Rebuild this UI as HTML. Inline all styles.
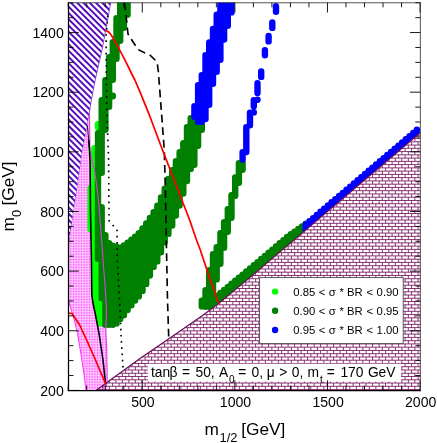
<!DOCTYPE html><html><head><meta charset="utf-8"><style>html,body{margin:0;padding:0;background:#fff}body{width:437px;height:443px;position:relative;overflow:hidden}</style></head><body><svg width="437" height="443" viewBox="0 0 437 443" style="position:absolute;left:0;top:0">
<defs>
<clipPath id="fr"><rect x="68.3" y="2.5" width="352.2" height="388.3"/></clipPath>
<clipPath id="bk"><polygon points="95.6,390.8 140.0,358.6 170.0,338.0 200.0,317.2 212.0,308.6 222.8,300.0 250.0,277.4 420.5,132.5 420.5,390.8"/></clipPath>
</defs>
<g clip-path="url(#fr)">
<clipPath id="pp"><polygon points="68.3,2.5 110.8,2.5 102.0,50.0 95.2,80.0 91.4,100.0 86.6,130.0 82.3,152.0 78.4,180.0 75.7,198.0 73.0,216.0 70.3,234.0 68.3,249.0"/></clipPath>
<path clip-path="url(#pp)" d="M-195.19 0L64.81 260M-188.92 0L71.08 260M-182.65 0L77.35 260M-176.38 0L83.62 260M-170.11 0L89.89 260M-163.84 0L96.16 260M-157.57 0L102.43 260M-151.30 0L108.70 260M-145.03 0L114.97 260M-138.76 0L121.24 260M-132.49 0L127.51 260M-126.22 0L133.78 260M-119.95 0L140.05 260M-113.68 0L146.32 260M-107.41 0L152.59 260M-101.14 0L158.86 260M-94.87 0L165.13 260M-88.60 0L171.40 260M-82.33 0L177.67 260M-76.06 0L183.94 260M-69.79 0L190.21 260M-63.52 0L196.48 260M-57.25 0L202.75 260M-50.98 0L209.02 260M-44.71 0L215.29 260M-38.44 0L221.56 260M-32.17 0L227.83 260M-25.90 0L234.10 260M-19.63 0L240.37 260M-13.36 0L246.64 260M-7.09 0L252.91 260M-0.82 0L259.18 260M5.45 0L265.45 260M11.72 0L271.72 260M17.99 0L277.99 260M24.26 0L284.26 260M30.53 0L290.53 260M36.80 0L296.80 260M43.07 0L303.07 260M49.34 0L309.34 260M55.61 0L315.61 260M61.88 0L321.88 260M68.15 0L328.15 260M74.42 0L334.42 260M80.69 0L340.69 260M86.96 0L346.96 260M93.23 0L353.23 260M99.50 0L359.50 260M105.77 0L365.77 260M112.04 0L372.04 260M118.31 0L378.31 260M124.58 0L384.58 260M130.85 0L390.85 260M137.12 0L397.12 260M143.39 0L403.39 260M149.66 0L409.66 260M155.93 0L415.93 260M162.20 0L422.20 260M168.47 0L428.47 260M174.74 0L434.74 260M181.01 0L441.01 260M187.28 0L447.28 260M193.55 0L453.55 260M199.82 0L459.82 260M206.09 0L466.09 260M212.36 0L472.36 260M218.63 0L478.63 260M224.90 0L484.90 260M231.17 0L491.17 260M237.44 0L497.44 260M243.71 0L503.71 260M249.98 0L509.98 260M256.25 0L516.25 260M262.52 0L522.52 260M268.79 0L528.79 260M275.06 0L535.06 260M281.33 0L541.33 260M287.60 0L547.60 260M293.87 0L553.87 260M300.14 0L560.14 260M306.41 0L566.41 260M312.68 0L572.68 260M318.95 0L578.95 260M325.22 0L585.22 260M331.49 0L591.49 260M337.76 0L597.76 260M344.03 0L604.03 260M350.30 0L610.30 260M356.57 0L616.57 260M362.84 0L622.84 260" stroke="#560bbd" stroke-width="1.95" fill="none"/>
<path d="M110.8 2.5L102.0 50.0L95.2 80.0L91.4 100.0L86.6 130.0L82.3 152.0L78.4 180.0L75.7 198.0L73.0 216.0L70.3 234.0L68.3 249.0" stroke="#7a30d0" stroke-width="0.8" fill="none"/>
<clipPath id="pc"><polygon points="89.4,113.7 89.8,135.0 90.0,150.0 92.5,162.0 94.8,172.0 97.0,188.0 99.0,205.0 101.0,232.0 103.0,260.0 105.0,285.0 106.5,310.0 105.8,330.0 106.6,345.0 107.0,365.0 107.2,382.0 107.2,384.0 107.2,390.6 85.9,390.6 84.3,376.3 80.9,353.7 77.5,333.4 74.2,319.8 70.5,307.0 68.3,300.5 68.3,249.0 70.3,234.0 73.0,216.0 75.7,198.0 78.4,180.0 82.3,152.0 86.6,130.0 89.4,113.7"/></clipPath>
<polygon points="89.4,113.7 89.8,135.0 90.0,150.0 92.5,162.0 94.8,172.0 97.0,188.0 99.0,205.0 101.0,232.0 103.0,260.0 105.0,285.0 106.5,310.0 105.8,330.0 106.6,345.0 107.0,365.0 107.2,382.0 107.2,384.0 107.2,390.6 85.9,390.6 84.3,376.3 80.9,353.7 77.5,333.4 74.2,319.8 70.5,307.0 68.3,300.5 68.3,249.0 70.3,234.0 73.0,216.0 75.7,198.0 78.4,180.0 82.3,152.0 86.6,130.0 89.4,113.7" fill="#ffe0ff"/>
<path clip-path="url(#pc)" d="M65.50 83.05V392M67.10 83.05V392M68.70 83.05V392M70.30 83.05V392M71.90 83.05V392M73.50 83.05V392M75.10 83.05V392M76.70 83.05V392M78.30 83.05V392M79.90 83.05V392M81.50 83.05V392M83.10 83.05V392M84.70 83.05V392M86.30 83.05V392M87.90 83.05V392M89.50 83.05V392M91.10 83.05V392M92.70 83.05V392M94.30 83.05V392M95.90 83.05V392M97.50 83.05V392M99.10 83.05V392M100.70 83.05V392M102.30 83.05V392M103.90 83.05V392M105.50 83.05V392M107.10 83.05V392M108.70 83.05V392" stroke="#ff28ff" stroke-width="0.9" stroke-dasharray="0.9 0.7000000000000001" fill="none"/>
<path d="M68.3 300.5L70.5 307.0L74.2 319.8L77.5 333.4L80.9 353.7L84.3 376.3L85.9 390.0" stroke="#ff30ff" stroke-width="1" fill="none"/>
<clipPath id="lc"><polygon points="60.0,100.0 140.0,100.0 140.0,340.0 105.5,383.5 103.0,360.0 99.3,335.0 95.5,315.0 92.8,302.0 91.8,295.0 91.4,260.0 90.9,232.0 60.0,232.0"/></clipPath>
<g clip-path="url(#lc)"><path d="M98.0 124.2V127.3M94.3 148.2V308.8M90.6 188.2V229.3M98.0 258.2V323.0M101.7 288.2V323.2" stroke="#00ff00" stroke-width="6.4" stroke-linecap="round" fill="none"/></g>
<path d="M105.4 80.2V129.8M109.1 57.2V106.8M112.8 42.2V79.8M116.5 18.2V58.8M120.2 -0.8V40.8M123.9 -0.8V27.8M127.6 -0.8V14.8M101.7 100.2V172.8M101.7 207.2V298.3M98.0 133.2V258.8M105.4 235.2V324.7M109.1 243.2V324.7M112.8 95.7V96.3M112.8 245.7V324.7M116.5 246.7V323.4M120.2 247.7V318.9M123.9 245.4V315.3" stroke="#008000" stroke-width="6.4" stroke-linecap="round" fill="none"/>
<path d="M127.6 242.7V310.1M131.4 239.8V305.2M135.1 236.7V300.5M138.8 233.1V296.4M142.5 228.4V291.1M146.2 223.5V283.9M149.9 218.0V275.5M153.6 212.1V266.9M157.3 205.7V261.4M161.0 197.5V252.2M164.7 188.8V242.2M168.4 178.9V233.9M172.2 170.1V225.5M175.9 161.2V215.5M179.6 152.2V205.5M183.3 143.2V193.6M187.0 127.2V181.0M190.7 118.2V168.9M194.4 118.2V164.8M198.1 123.2V145.8M201.8 123.2V129.8" stroke="#008000" stroke-width="6.4" stroke-linecap="round" fill="none"/>
<path d="M242.6 162.7V169.8M238.9 163.2V182.8M235.2 177.5V195.8M231.5 195.2V217.8M227.8 209.2V231.8M224.1 222.2V247.8M220.4 233.2V263.8M216.7 247.2V279.4M213.0 254.2V296.8M209.2 270.2V306.8M205.5 290.2V306.8M201.8 300.7V306.4" stroke="#008000" stroke-width="6.4" stroke-linecap="round" fill="none"/>
<path d="M213.0 298.9V307.6M216.7 296.0V304.7M220.4 293.0V301.7M224.1 290.0V298.7M227.8 286.9V295.6M231.5 283.8V292.5M235.2 280.8V289.5M238.9 277.7V286.4M242.6 274.6V283.3M246.3 271.5V280.2M250.0 268.5V277.2M253.8 265.3V274.0M257.5 262.2V270.9M261.2 259.0V267.7M264.9 255.9V264.6M268.6 252.7V261.4M272.3 249.6V258.3M276.0 246.4V255.1M279.7 243.2V251.9M283.4 240.1V248.8M287.1 236.9V245.6M290.8 234.2V242.5M294.5 231.6V239.3M298.3 229.0V236.2M302.0 226.4V233.0M305.7 223.7V229.9" stroke="#008000" stroke-width="6.4" stroke-linecap="round" fill="none"/>
<path d="M194.4 106.2V116.8M198.1 85.2V121.8M201.8 75.2V121.8M205.5 55.2V119.1M209.2 42.5V104.8M213.0 28.9V83.8M216.7 14.7V71.8M220.4 -0.8V59.8M224.1 -0.8V39.5M227.8 -0.8V25.8M231.5 -0.8V12.4" stroke="#0000ff" stroke-width="6.4" stroke-linecap="round" fill="none"/>
<path d="M276.0 6.2V11.7M272.3 22.4V27.9M268.6 36.0V41.4M264.9 50.1V55.3M261.2 71.4V76.9M257.5 83.3V93.1M257.5 99.8V99.8M253.8 100.2V106.3M253.8 112.2V112.4M250.0 112.7V123.8M250.0 125.2V125.2M246.3 127.2V152.0M242.6 152.2V159.5" stroke="#0000ff" stroke-width="6.4" stroke-linecap="round" fill="none"/>
<path d="M305.7 224.4V229.9M309.4 221.2V226.7M313.1 218.1V223.6M316.8 214.9V220.4M320.5 211.8V217.3M324.2 208.6V214.1M327.9 205.5V211.0M331.6 202.3V207.8M335.3 199.2V204.7M339.1 196.0V201.5M342.8 192.9V198.4M346.5 189.7V195.2M350.2 186.6V192.1M353.9 183.4V188.9M357.6 180.3V185.8M361.3 177.1V182.6M365.0 173.9V179.4M368.7 170.8V176.3M372.4 167.6V173.1M376.1 164.5V170.0M379.9 161.3V166.8M383.6 158.2V163.7M387.3 155.0V160.5M391.0 151.9V157.4M394.7 148.7V154.2M398.4 145.6V151.1M402.1 142.4V147.9M405.8 139.3V144.8M409.5 136.1V141.6M413.2 133.0V138.5M416.9 129.8V135.3" stroke="#0000ff" stroke-width="6.4" stroke-linecap="round" fill="none"/>
<polygon points="95.6,390.8 140.0,358.6 170.0,338.0 200.0,317.2 212.0,308.6 222.8,300.0 250.0,277.4 420.5,132.5 420.5,390.8" fill="#ffffff"/>
<g clip-path="url(#bk)"><polygon points="89.4,113.7 89.8,135.0 90.0,150.0 92.5,162.0 94.8,172.0 97.0,188.0 99.0,205.0 101.0,232.0 103.0,260.0 105.0,285.0 106.5,310.0 105.8,330.0 106.6,345.0 107.0,365.0 107.2,382.0 107.2,384.0 107.2,390.6 85.9,390.6 84.3,376.3 80.9,353.7 77.5,333.4 74.2,319.8 70.5,307.0 68.3,300.5 68.3,249.0 70.3,234.0 73.0,216.0 75.7,198.0 78.4,180.0 82.3,152.0 86.6,130.0 89.4,113.7" fill="#ffe0ff"/><path clip-path="url(#pc)" d="M65.50 83.05V392M67.10 83.05V392M68.70 83.05V392M70.30 83.05V392M71.90 83.05V392M73.50 83.05V392M75.10 83.05V392M76.70 83.05V392M78.30 83.05V392M79.90 83.05V392M81.50 83.05V392M83.10 83.05V392M84.70 83.05V392M86.30 83.05V392M87.90 83.05V392M89.50 83.05V392M91.10 83.05V392M92.70 83.05V392M94.30 83.05V392M95.90 83.05V392M97.50 83.05V392M99.10 83.05V392M100.70 83.05V392M102.30 83.05V392M103.90 83.05V392M105.50 83.05V392M107.10 83.05V392M108.70 83.05V392" stroke="#ff28ff" stroke-width="0.9" stroke-dasharray="0.9 0.7000000000000001" fill="none"/></g>
<g clip-path="url(#bk)" stroke="#6e0856" fill="none">
<path d="M60 392.82H425M60 389.56H425M60 386.30H425M60 383.04H425M60 379.78H425M60 376.52H425M60 373.26H425M60 370.00H425M60 366.74H425M60 363.48H425M60 360.22H425M60 356.96H425M60 353.70H425M60 350.44H425M60 347.18H425M60 343.92H425M60 340.66H425M60 337.40H425M60 334.14H425M60 330.88H425M60 327.62H425M60 324.36H425M60 321.10H425M60 317.84H425M60 314.58H425M60 311.32H425M60 308.06H425M60 304.80H425M60 301.54H425M60 298.28H425M60 295.02H425M60 291.76H425M60 288.50H425M60 285.24H425M60 281.98H425M60 278.72H425M60 275.46H425M60 272.20H425M60 268.94H425M60 265.68H425M60 262.42H425M60 259.16H425M60 255.90H425M60 252.64H425M60 249.38H425M60 246.12H425M60 242.86H425M60 239.60H425M60 236.34H425M60 233.08H425M60 229.82H425M60 226.56H425M60 223.30H425M60 220.04H425M60 216.78H425M60 213.52H425M60 210.26H425M60 207.00H425M60 203.74H425M60 200.48H425M60 197.22H425M60 193.96H425M60 190.70H425M60 187.44H425M60 184.18H425M60 180.92H425M60 177.66H425M60 174.40H425M60 171.14H425M60 167.88H425M60 164.62H425M60 161.36H425M60 158.10H425M60 154.84H425M60 151.58H425M60 148.32H425M60 145.06H425M60 141.80H425M60 138.54H425M60 135.28H425M60 132.02H425M60 128.76H425M60 125.50H425" stroke-width="0.82"/>
<path d="M424.60 392.82V120M418.10 392.82V120M411.60 392.82V120M405.10 392.82V120M398.60 392.82V120M392.10 392.82V120M385.60 392.82V120M379.10 392.82V120M372.60 392.82V120M366.10 392.82V120M359.60 392.82V120M353.10 392.82V120M346.60 392.82V120M340.10 392.82V120M333.60 392.82V120M327.10 392.82V120M320.60 392.82V120M314.10 392.82V120M307.60 392.82V120M301.10 392.82V120M294.60 392.82V120M288.10 392.82V120M281.60 392.82V120M275.10 392.82V120M268.60 392.82V120M262.10 392.82V120M255.60 392.82V120M249.10 392.82V120M242.60 392.82V120M236.10 392.82V120M229.60 392.82V120M223.10 392.82V120M216.60 392.82V120M210.10 392.82V120M203.60 392.82V120M197.10 392.82V120M190.60 392.82V120M184.10 392.82V120M177.60 392.82V120M171.10 392.82V120M164.60 392.82V120M158.10 392.82V120M151.60 392.82V120M145.10 392.82V120M138.60 392.82V120M132.10 392.82V120M125.60 392.82V120M119.10 392.82V120M112.60 392.82V120M106.10 392.82V120M99.60 392.82V120M93.10 392.82V120" stroke-width="0.8" stroke-dasharray="3.26 3.26"/>
<path d="M421.35 392.82V120M414.85 392.82V120M408.35 392.82V120M401.85 392.82V120M395.35 392.82V120M388.85 392.82V120M382.35 392.82V120M375.85 392.82V120M369.35 392.82V120M362.85 392.82V120M356.35 392.82V120M349.85 392.82V120M343.35 392.82V120M336.85 392.82V120M330.35 392.82V120M323.85 392.82V120M317.35 392.82V120M310.85 392.82V120M304.35 392.82V120M297.85 392.82V120M291.35 392.82V120M284.85 392.82V120M278.35 392.82V120M271.85 392.82V120M265.35 392.82V120M258.85 392.82V120M252.35 392.82V120M245.85 392.82V120M239.35 392.82V120M232.85 392.82V120M226.35 392.82V120M219.85 392.82V120M213.35 392.82V120M206.85 392.82V120M200.35 392.82V120M193.85 392.82V120M187.35 392.82V120M180.85 392.82V120M174.35 392.82V120M167.85 392.82V120M161.35 392.82V120M154.85 392.82V120M148.35 392.82V120M141.85 392.82V120M135.35 392.82V120M128.85 392.82V120M122.35 392.82V120M115.85 392.82V120M109.35 392.82V120M102.85 392.82V120M96.35 392.82V120M89.85 392.82V120" stroke-width="0.8" stroke-dasharray="3.26 3.26" stroke-dashoffset="3.26"/>
</g>
<path d="M95.6 390.8L140.0 358.6L170.0 338.0L200.0 317.2L212.0 308.6L222.8 300.0L250.0 277.4L420.5 132.5" stroke="#6a0a55" stroke-width="1.2" fill="none"/>
<path d="M89.4 113.7L89.8 135.0L90.0 150.0L92.5 162.0L94.8 172.0L97.0 188.0L99.0 205.0L101.0 232.0L103.0 260.0L105.0 285.0L106.5 310.0L105.8 330.0L106.6 345.0L107.0 365.0L107.2 382.0" stroke="#e03ce0" stroke-width="1.1" fill="none"/>
<path d="M87.4 125.4L88.7 140.0L89.5 150.0" stroke="#000" stroke-width="0.9" fill="none" stroke-linejoin="round"/>
<path d="M88.7 140.0L89.5 150.0L90.1 162.0L90.5 210.0L91.4 260.0L91.8 295.0L92.8 302.0L95.5 315.0L99.3 335.0L103.0 360.0L105.5 383.5" stroke="#000" stroke-width="1.6" fill="none" stroke-linejoin="round"/>
<path d="M107.8 15.6L106.1 36.0L106.2 60.0L106.8 110.0L108.6 160.0L108.9 200.0L109.2 221.0L117.0 230.2L117.3 260.0L119.6 300.0L121.3 340.0L123.0 368.0" stroke="#000" stroke-width="1.65" fill="none" stroke-dasharray="1.65 4.55"/>
<path d="M124.5 2.5L126.5 20.0L128.0 34.0L131.5 39.5L138.0 49.5L144.5 52.8L149.3 54.4L155.0 60.0L157.3 63.7L158.3 71.0L159.0 80.0L164.3 150.0L165.4 190.0L166.5 250.0L167.5 300.0L168.8 340.0" stroke="#000" stroke-width="1.65" fill="none" stroke-dasharray="7.8 4.8"/>
<path d="M105.5 30.2L109.1 32.3L112.0 36.3L115.3 42.0L119.3 49.3L124.4 58.9L132.3 75.0L134.9 80.0L140.3 92.6L150.0 116.7L162.5 150.0L178.0 190.0L190.0 221.0L196.5 240.0L200.3 250.0L210.0 279.0L218.5 303.0" stroke="#ff0000" stroke-width="1.75" fill="none" stroke-linejoin="round"/>
<path d="M68.3 313.0L72.2 313.7L79.7 325.0L86.6 340.0L95.5 360.0L105.5 383.5" stroke="#ff0000" stroke-width="1.75" fill="none" stroke-linejoin="round"/>
</g>
<rect x="147.8" y="363.7" width="253.3" height="17.9" fill="#fff"/>
<rect x="259.6" y="277.6" width="143.6" height="66" fill="#fff" stroke="#4a4a4a" stroke-width="0.9"/>
<circle cx="275.1" cy="291.6" r="3.2" fill="#00ff00"/>
<circle cx="275.1" cy="310.8" r="3.2" fill="#008000"/>
<circle cx="275.1" cy="330" r="3.2" fill="#0000ff"/>
<path d="M68.3 390.40h10.5M420.5 390.40h-10.5M68.3 375.49h5.2M420.5 375.49h-5.2M68.3 360.58h5.2M420.5 360.58h-5.2M68.3 345.67h5.2M420.5 345.67h-5.2M68.3 330.76h10.5M420.5 330.76h-10.5M68.3 315.85h5.2M420.5 315.85h-5.2M68.3 300.94h5.2M420.5 300.94h-5.2M68.3 286.03h5.2M420.5 286.03h-5.2M68.3 271.12h10.5M420.5 271.12h-10.5M68.3 256.21h5.2M420.5 256.21h-5.2M68.3 241.30h5.2M420.5 241.30h-5.2M68.3 226.39h5.2M420.5 226.39h-5.2M68.3 211.48h10.5M420.5 211.48h-10.5M68.3 196.57h5.2M420.5 196.57h-5.2M68.3 181.66h5.2M420.5 181.66h-5.2M68.3 166.75h5.2M420.5 166.75h-5.2M68.3 151.84h10.5M420.5 151.84h-10.5M68.3 136.93h5.2M420.5 136.93h-5.2M68.3 122.02h5.2M420.5 122.02h-5.2M68.3 107.11h5.2M420.5 107.11h-5.2M68.3 92.20h10.5M420.5 92.20h-10.5M68.3 77.29h5.2M420.5 77.29h-5.2M68.3 62.38h5.2M420.5 62.38h-5.2M68.3 47.47h5.2M420.5 47.47h-5.2M68.3 32.56h10.5M420.5 32.56h-10.5M68.3 17.65h5.2M420.5 17.65h-5.2M68.3 2.74h5.2M420.5 2.74h-5.2M68.20 390.6v-5.1M68.20 2.5v4.8M86.72 390.6v-5.1M86.72 2.5v4.8M105.24 390.6v-5.1M105.24 2.5v4.8M123.76 390.6v-5.1M123.76 2.5v4.8M142.28 390.6v-10.3M142.28 2.5v10M160.80 390.6v-5.1M160.80 2.5v4.8M179.32 390.6v-5.1M179.32 2.5v4.8M197.84 390.6v-5.1M197.84 2.5v4.8M216.36 390.6v-5.1M216.36 2.5v4.8M234.88 390.6v-10.3M234.88 2.5v10M253.40 390.6v-5.1M253.40 2.5v4.8M271.92 390.6v-5.1M271.92 2.5v4.8M290.44 390.6v-5.1M290.44 2.5v4.8M308.96 390.6v-5.1M308.96 2.5v4.8M327.48 390.6v-10.3M327.48 2.5v10M346.00 390.6v-5.1M346.00 2.5v4.8M364.52 390.6v-5.1M364.52 2.5v4.8M383.04 390.6v-5.1M383.04 2.5v4.8M401.56 390.6v-5.1M401.56 2.5v4.8M420.08 390.6v-10.3M420.08 2.5v10" stroke="#000" stroke-width="0.9" fill="none"/>
<path d="M68.5 2.75H420.35V390.6" fill="none" stroke="#2a2a2a" stroke-width="0.8"/>
<path d="M68.5 2.4V390.6H420.7" fill="none" stroke="#000" stroke-width="1.25"/>
</svg>
<svg width="437" height="443" viewBox="0 0 437 443" style="position:absolute;left:0;top:0;will-change:transform;font-family:'Liberation Sans',sans-serif" fill="#000">
<text x="63.8" y="395.5" font-size="14.1" text-anchor="end">200</text>
<text x="63.8" y="335.9" font-size="14.1" text-anchor="end">400</text>
<text x="63.8" y="276.2" font-size="14.1" text-anchor="end">600</text>
<text x="63.8" y="216.6" font-size="14.1" text-anchor="end">800</text>
<text x="63.8" y="156.9" font-size="14.1" text-anchor="end">1000</text>
<text x="63.8" y="97.3" font-size="14.1" text-anchor="end">1200</text>
<text x="63.8" y="37.7" font-size="14.1" text-anchor="end">1400</text>
<text x="142.9" y="406.6" font-size="14.1" text-anchor="middle">500</text>
<text x="235.5" y="406.6" font-size="14.1" text-anchor="middle">1000</text>
<text x="328.1" y="406.6" font-size="14.1" text-anchor="middle">1500</text>
<text x="420.7" y="406.6" font-size="14.1" text-anchor="middle">2000</text>
<text x="204.6" y="434.6" font-size="17.3">m</text>
<text x="219.6" y="441.8" font-size="12.9">1/2</text>
<text x="241.2" y="434.6" font-size="17.3">[GeV]</text>
<g transform="translate(14.1 231.6) rotate(-90)"><text x="0" y="0" font-size="17.3">m</text><text x="14.6" y="7.1" font-size="12.9">0</text><text x="26.0" y="0" font-size="17.3">[GeV]</text></g>
<text x="293.3" y="295.7" font-size="11.3">0.85</text>
<text x="318.7" y="295.7" font-size="11.3">&lt;</text>
<text x="328.8" y="295.7" font-size="11.3">σ</text>
<text x="339.5" y="295.7" font-size="11.3">*</text>
<text x="346.9" y="295.7" font-size="11.3">BR</text>
<text x="366.4" y="295.7" font-size="11.3">&lt;</text>
<text x="376.6" y="295.7" font-size="11.3">0.90</text>
<text x="293.3" y="314.9" font-size="11.3">0.90</text>
<text x="318.7" y="314.9" font-size="11.3">&lt;</text>
<text x="328.8" y="314.9" font-size="11.3">σ</text>
<text x="339.5" y="314.9" font-size="11.3">*</text>
<text x="346.9" y="314.9" font-size="11.3">BR</text>
<text x="366.4" y="314.9" font-size="11.3">&lt;</text>
<text x="376.6" y="314.9" font-size="11.3">0.95</text>
<text x="293.3" y="334.2" font-size="11.3">0.95</text>
<text x="318.7" y="334.2" font-size="11.3">&lt;</text>
<text x="328.8" y="334.2" font-size="11.3">σ</text>
<text x="339.5" y="334.2" font-size="11.3">*</text>
<text x="346.9" y="334.2" font-size="11.3">BR</text>
<text x="366.4" y="334.2" font-size="11.3">&lt;</text>
<text x="376.6" y="334.2" font-size="11.3">1.00</text>
<text x="150.9" y="377.3" font-size="13.8">tan</text>
<text x="169.4" y="377.3" font-size="13.8">β</text>
<text x="182.0" y="377.3" font-size="13.8">=</text>
<text x="195.5" y="377.3" font-size="13.8">50,</text>
<text x="219.0" y="377.3" font-size="13.8">A</text>
<text x="238.2" y="377.3" font-size="13.8">=</text>
<text x="251.5" y="377.3" font-size="13.8">0,</text>
<text x="266.7" y="377.3" font-size="13.8">μ</text>
<text x="279.2" y="377.3" font-size="13.8">&gt;</text>
<text x="291.8" y="377.3" font-size="13.8">0,</text>
<text x="307.6" y="377.3" font-size="13.8">m</text>
<text x="326.7" y="377.3" font-size="13.8">=</text>
<text x="340.4" y="377.3" font-size="13.8">170</text>
<text x="367.9" y="377.3" font-size="13.8">GeV</text>
<text x="228.9" y="382.6" font-size="10">0</text>
<text x="320.1" y="382.6" font-size="10">t</text>
</svg></body></html>
